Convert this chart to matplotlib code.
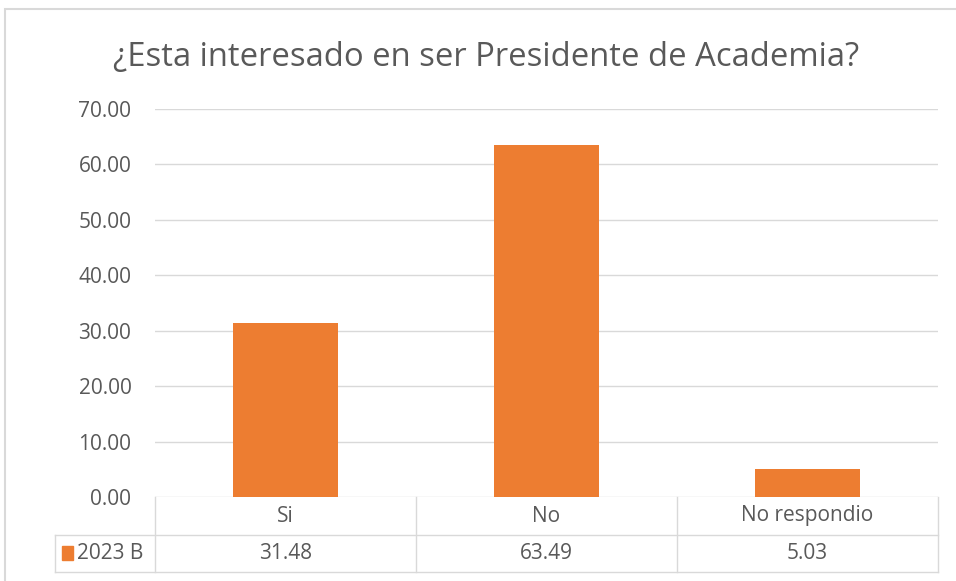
import matplotlib
matplotlib.use("Agg")
import matplotlib.pyplot as plt
from matplotlib.lines import Line2D

plt.rcParams['font.family'] = ['Open Sans', 'DejaVu Sans']

categories = ['Si', 'No', 'No respondio']
series_name = '2023 B'
values = [31.48, 63.49, 5.03]
yticks = [0, 10, 20, 30, 40, 50, 60, 70]
title = '¿Esta interesado en ser Presidente de Academia?'

W, H = 956, 581
bar_color = '#ed7d31'
text_color = '#595959'
grid_color = '#d9d9d9'

fig = plt.figure(figsize=(W / 100, H / 100), dpi=100)

def fx(px):
    return px / W

def fy(py):
    return 1 - py / H

left, right, top, bottom = 155, 938, 109, 497
ax = fig.add_axes([fx(left), fy(bottom), fx(right) - fx(left), fy(top) - fy(bottom)])
x = list(range(len(categories)))
ax.bar(x, values, width=0.4, color=bar_color, zorder=3)
ax.set_xlim(-0.5, len(categories) - 0.5)
ax.set_ylim(0, 70)
ax.set_yticks(yticks)
ax.set_yticklabels([f'{v:.2f}' for v in yticks], fontsize=15, color=text_color)
ax.tick_params(axis='y', length=0, pad=17)
ax.set_xticks([])
ax.grid(axis='y', color=grid_color, linewidth=1, zorder=0)
for s in ax.spines.values():
    s.set_visible(False)

fig.text(fx(486), fy(57), title, ha='center', va='center', fontsize=23.6, color=text_color)

# data table under the axis
col_edges = [left + (right - left) * i / len(categories) for i in range(len(categories) + 1)]
row1, row2 = 535, 572
leg_left = 55

def hline(y, x0, x1):
    fig.add_artist(Line2D([fx(x0), fx(x1)], [fy(y), fy(y)], color=grid_color, lw=1))

def vline(xp, y0, y1):
    fig.add_artist(Line2D([fx(xp), fx(xp)], [fy(y0), fy(y1)], color=grid_color, lw=1))

hline(row1, leg_left, right)
hline(row2, leg_left, right)
for c in col_edges:
    vline(c, bottom, row2)
vline(leg_left, row1, row2)

for i, (cat, v) in enumerate(zip(categories, values)):
    cx = (col_edges[i] + col_edges[i + 1]) / 2
    fig.text(fx(cx), fy((bottom + row1) / 2), cat, ha='center', va='center', fontsize=15, color=text_color)
    fig.text(fx(cx), fy((row1 + row2) / 2), f'{v:.2f}', ha='center', va='center', fontsize=15, color=text_color)

fig.add_artist(plt.Rectangle((fx(62), fy(560)), fx(11), fy(546) - fy(560), color=bar_color))
fig.text(fx(77), fy((row1 + row2) / 2), series_name, ha='left', va='center', fontsize=15, color=text_color)

# outer chart border
fig.add_artist(plt.Rectangle((fx(5), fy(H + 5)), fx(W), fy(9) - fy(H + 5), fill=False, ec=grid_color, lw=1.5))

fig.savefig('out.png', dpi=100)
